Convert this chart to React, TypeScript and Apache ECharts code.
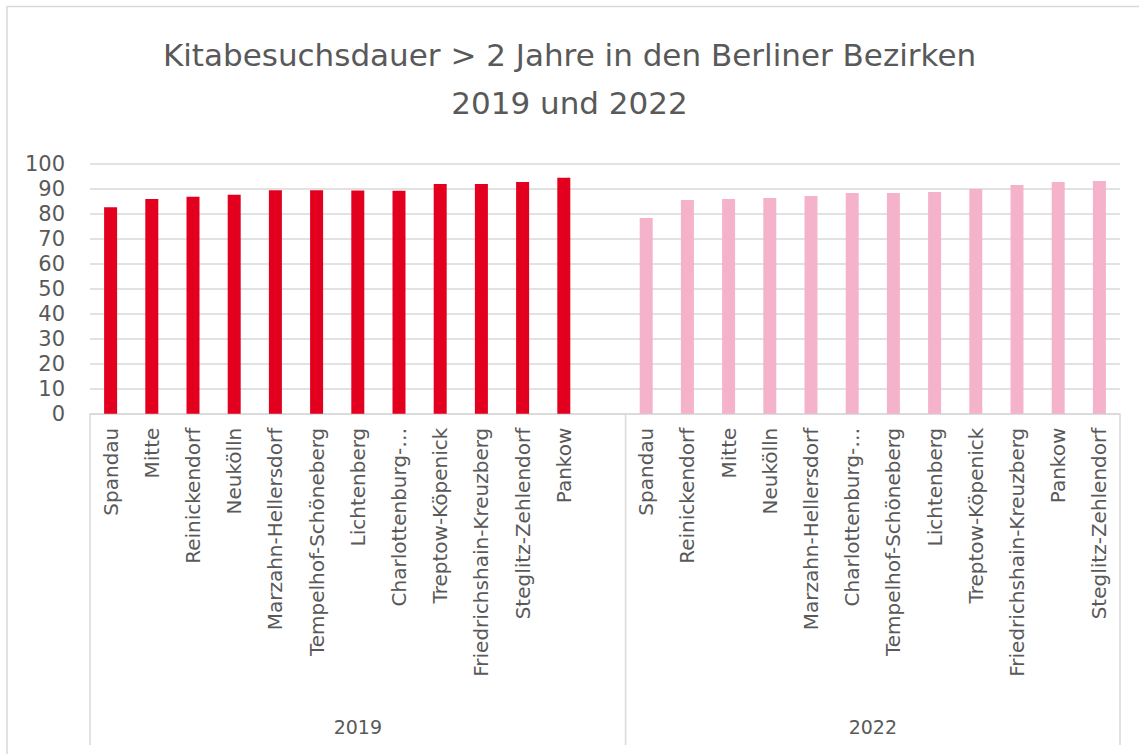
import React, { useEffect, useRef } from "react";
import * as echarts from "echarts";

const districts2019 = [
  "Spandau", "Mitte", "Reinickendorf", "Neukölln", "Marzahn-Hellersdorf",
  "Tempelhof-Schöneberg", "Lichtenberg", "Charlottenburg-…", "Treptow-Köpenick",
  "Friedrichshain-Kreuzberg", "Steglitz-Zehlendorf", "Pankow",
];
const values2019 = [82.6, 85.9, 86.8, 87.6, 89.4, 89.4, 89.3, 89.2, 91.9, 91.9, 92.7, 94.4];

const districts2022 = [
  "Spandau", "Reinickendorf", "Mitte", "Neukölln", "Marzahn-Hellersdorf",
  "Charlottenburg-…", "Tempelhof-Schöneberg", "Lichtenberg", "Treptow-Köpenick",
  "Friedrichshain-Kreuzberg", "Pankow", "Steglitz-Zehlendorf",
];
const values2022 = [78.3, 85.5, 85.9, 86.3, 87.1, 88.3, 88.3, 88.7, 89.9, 91.5, 92.7, 93.1];

const groupLabels = ["2019", "2022"];
const titleText = "Kitabesuchsdauer > 2 Jahre in den Berliner Bezirken\n2019 und 2022";

const FONT = "DejaVu Sans";
const TEXT = "#595959";
const LINE = "#d9d9d9";

export default function App() {
  const ref = useRef<HTMLDivElement>(null);

  useEffect(() => {
    document.body.style.margin = "0";
    const el = ref.current;
    if (!el) return;
    const chart = echarts.init(el, undefined, { renderer: "svg" });

    const categories = [...districts2019, "", ...districts2022];
    const s2019 = [...values2019, null, ...districts2022.map(() => null)];
    const s2022 = [...districts2019.map(() => null), null, ...values2022];

    chart.setOption({
      animation: false,
      backgroundColor: "#ffffff",
      textStyle: { fontFamily: FONT },
      title: {
        text: titleText,
        left: "center",
        top: 26,
        textStyle: {
          fontFamily: FONT,
          fontSize: 31,
          fontWeight: "normal",
          color: TEXT,
          lineHeight: 48,
        },
      },
      grid: { left: 90, right: 19, top: 163.7, bottom: 340.3, containLabel: false },
      xAxis: {
        type: "category",
        data: categories,
        boundaryGap: true,
        axisLine: { show: true, lineStyle: { color: LINE, width: 1.5 } },
        axisTick: { show: false },
        axisLabel: {
          interval: 0,
          rotate: 90,
          margin: 14,
          fontFamily: FONT,
          fontSize: 20,
          color: TEXT,
        },
      },
      yAxis: {
        type: "value",
        min: 0,
        max: 100,
        interval: 10,
        axisLine: { show: false },
        axisTick: { show: false },
        splitLine: { show: true, lineStyle: { color: LINE, width: 1.5 } },
        axisLabel: { margin: 25, fontFamily: FONT, fontSize: 21, color: TEXT },
      },
      series: [
        {
          name: "2019",
          type: "bar",
          data: s2019,
          barWidth: 13,
          barGap: "-100%",
          itemStyle: { color: "#e3001f" },
        },
        {
          name: "2022",
          type: "bar",
          data: s2022,
          barWidth: 13,
          barGap: "-100%",
          itemStyle: { color: "#f5b2cb" },
        },
      ],
    });

    const c0 = chart.convertToPixel({ xAxisIndex: 0 }, 0) as number;
    const c1 = chart.convertToPixel({ xAxisIndex: 0 }, 1) as number;
    const bw = c1 - c0;
    const start = c0 - bw / 2;
    const n1 = districts2019.length + 1;
    const n = categories.length;
    const bounds = [start, start + n1 * bw, start + n * bw];
    const y0 = chart.convertToPixel({ yAxisIndex: 0 }, 0) as number;
    const yBottom = 745;

    chart.setOption({
      graphic: [
        {
          type: "rect",
          shape: { x: 7, y: 6.5, width: 1160, height: 800 },
          style: { fill: "none", stroke: LINE, lineWidth: 1.5 },
          silent: true,
        },
        ...bounds.map((bx) => ({
          type: "line",
          shape: { x1: bx, y1: y0, x2: bx, y2: yBottom },
          style: { stroke: LINE, lineWidth: 1.5 },
          silent: true,
        })),
        ...groupLabels.map((g, i) => ({
          type: "text",
          x: (bounds[i] + bounds[i + 1]) / 2,
          y: 727,
          style: {
            text: g,
            fontFamily: FONT,
            fontSize: 19,
            fill: TEXT,
            textAlign: "center",
            textVerticalAlign: "middle",
          },
          silent: true,
        })),
      ],
    });

    return () => chart.dispose();
  }, []);

  return <div ref={ref} style={{ width: 1139, height: 754 }} />;
}
